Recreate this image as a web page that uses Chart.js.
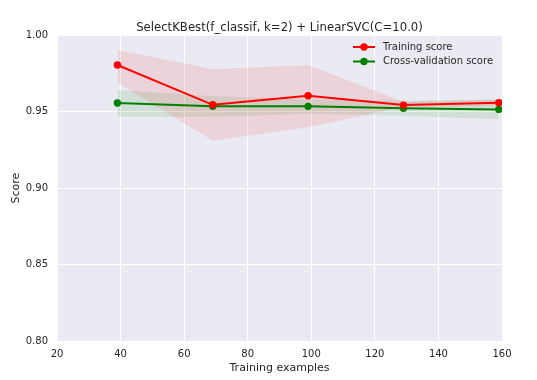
<!DOCTYPE html>
<html>
<head>
<meta charset="utf-8">
<script src="https://cdn.jsdelivr.net/npm/chart.js@4/dist/chart.umd.min.js"></script>
<style>
  html, body { margin: 0; padding: 0; background: #fff; }
  #wrap { width: 537px; height: 380px; }
</style>
</head>
<body>
<div id="wrap"><canvas id="curveChart" width="537" height="380"></canvas></div>
<script>
// training set sizes
var trainSizes = [39, 69, 99, 129, 159];

// mean scores
var trainScore = [0.9804, 0.9544, 0.9603, 0.9542, 0.9557];
var cvScore = [0.9556, 0.9534, 0.9534, 0.9521, 0.9514];

// +/- one std bands
var trainUpper = [0.9902, 0.9776, 0.9804, 0.9564, 0.9580];
var trainLower = [0.9690, 0.9309, 0.9397, 0.9530, 0.9534];
var cvUpper = [0.9640, 0.9600, 0.9580, 0.9570, 0.9575];
var cvLower = [0.9466, 0.9466, 0.9485, 0.9473, 0.9450];

var xTicks = [20, 40, 60, 80, 100, 120, 140, 160];
var yTicks = [0.80, 0.85, 0.90, 0.95, 1.00];

var legendItems = [
  { label: "Training score", color: "#ff0000" },
  { label: "Cross-validation score", color: "#008000" }
];

function pts(ys) {
  return trainSizes.map(function(x, i) { return { x: x, y: ys[i] }; });
}

var font = "DejaVu Sans";
var textColor = "#262626";

// plot background + legend inside the axes
var seabornPlugin = {
  id: "seaborn",
  beforeDraw: function(chart) {
    var a = chart.chartArea, c = chart.ctx;
    c.save();
    c.fillStyle = "#eaeaf2";
    c.fillRect(a.left, a.top, a.right - a.left, a.bottom - a.top);
    c.restore();
  },
  afterDraw: function(chart) {
    var c = chart.ctx;
    c.save();
    c.font = "10px '" + font + "'";
    c.textBaseline = "middle";
    legendItems.forEach(function(item, i) {
      var y = 47 + i * 14.5;
      c.strokeStyle = item.color;
      c.lineWidth = 2;
      c.beginPath();
      c.moveTo(353, y);
      c.lineTo(375, y);
      c.stroke();
      c.fillStyle = item.color;
      c.beginPath();
      c.arc(364, y, 3.7, 0, Math.PI * 2);
      c.fill();
      c.fillStyle = textColor;
      c.fillText(item.label, 383, y);
    });
    c.restore();
  }
};

var ctx = document.getElementById("curveChart").getContext("2d");

var chart = new Chart(ctx, {
  type: "line",
  data: {
    datasets: [
      {
        label: "Training score",
        data: pts(trainScore),
        borderColor: "#ff0000",
        backgroundColor: "#ff0000",
        borderWidth: 2,
        pointRadius: 3.7,
        pointBorderWidth: 0,
        fill: false
      },
      {
        label: "Cross-validation score",
        data: pts(cvScore),
        borderColor: "#008000",
        backgroundColor: "#008000",
        borderWidth: 2,
        pointRadius: 3.7,
        pointBorderWidth: 0,
        fill: false
      },
      {
        label: "train upper",
        data: pts(trainUpper),
        borderWidth: 0,
        pointRadius: 0,
        fill: false
      },
      {
        label: "train lower",
        data: pts(trainLower),
        borderWidth: 0,
        pointRadius: 0,
        backgroundColor: "rgba(255, 0, 0, 0.1)",
        fill: "-1"
      },
      {
        label: "cv upper",
        data: pts(cvUpper),
        borderWidth: 0,
        pointRadius: 0,
        fill: false
      },
      {
        label: "cv lower",
        data: pts(cvLower),
        borderWidth: 0,
        pointRadius: 0,
        backgroundColor: "rgba(0, 128, 0, 0.1)",
        fill: "-1"
      }
    ]
  },
  options: {
    responsive: false,
    animation: false,
    layout: { padding: { left: 0, right: 35, top: 0, bottom: 0 } },
    plugins: {
      legend: { display: false },
      tooltip: { enabled: false },
      title: {
        display: true,
        fullSize: false,
        text: "SelectKBest(f_classif, k=2) + LinearSVC(C=10.0)",
        color: textColor,
        font: { family: font, size: 11.7, weight: "normal" },
        padding: { top: 21, bottom: 0 }
      }
    },
    scales: {
      x: {
        type: "linear",
        min: 20,
        max: 160,
        afterBuildTicks: function(axis) {
          axis.ticks = xTicks.map(function(v) { return { value: v }; });
        },
        afterFit: function(axis) { axis.height = 39; },
        grid: { color: "#ffffff", lineWidth: 1, drawTicks: false },
        border: { display: false },
        ticks: {
          color: textColor,
          padding: 7,
          maxRotation: 0,
          font: { family: font, size: 10 }
        },
        title: {
          display: true,
          text: "Training examples",
          color: textColor,
          font: { family: font, size: 11 },
          padding: { top: 2, bottom: 5 }
        }
      },
      y: {
        min: 0.80,
        max: 1.00,
        afterBuildTicks: function(axis) {
          axis.ticks = yTicks.map(function(v) { return { value: v }; });
        },
        afterFit: function(axis) { axis.width = 57; },
        grid: { color: "#ffffff", lineWidth: 1, drawTicks: false },
        border: { display: false },
        ticks: {
          color: textColor,
          padding: 9,
          font: { family: font, size: 10 },
          callback: function(v) { return v.toFixed(2); }
        },
        title: {
          display: true,
          text: "Score",
          color: textColor,
          font: { family: font, size: 11 },
          padding: { top: 10, bottom: 4 }
        }
      }
    }
  },
  plugins: [seabornPlugin]
});
</script>
</body>
</html>
